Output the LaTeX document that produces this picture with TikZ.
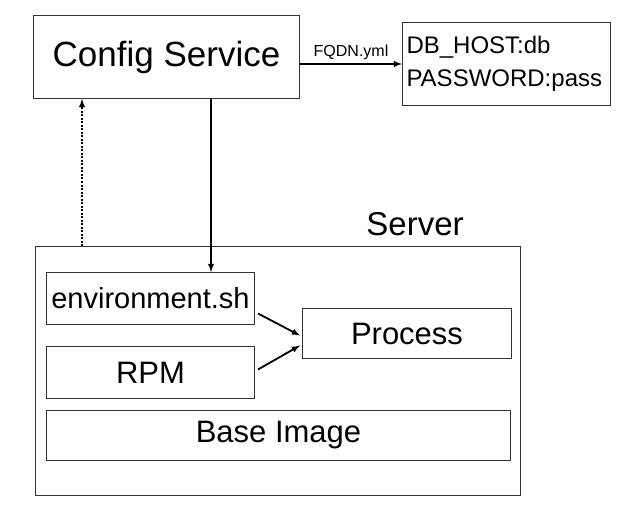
\documentclass[tikz,border=0pt]{standalone}
\usepackage{fontspec}
\setmainfont{Liberation Sans}
\usetikzlibrary{positioning}

\begin{document}
\begin{tikzpicture}[x=1pt,y=-1pt,>=latex,
    box/.style={draw=black!80,line width=1pt,rectangle,inner sep=0pt,anchor=north west},
    boxtext/.style={font=\fontsize{31}{33}\selectfont},
    link/.style={->,line width=1.8pt}]

    \useasboundingbox (0,0) rectangle (632,508);

    \node[box, minimum width=266pt, minimum height=83pt, font=\fontsize{35}{37}\selectfont] (config) at (33,15) {Config Service};
    \node[box, minimum height=83pt, text width=200pt, inner xsep=4pt, align=left, font=\fontsize{24}{33}\selectfont] (db) at (402,22) {DB\_HOST:db\\PASSWORD:pass};

    \node[box, minimum width=485pt, minimum height=249pt] (server) at (35,246) {};
    \node[font=\fontsize{33}{35}\selectfont] (serverlabel) at (415,224) {Server};

    \node[box, boxtext, font=\fontsize{29}{31}\selectfont, minimum width=208pt, minimum height=52pt] (env) at (46,272) {environment.sh};
    \node[box, boxtext, minimum width=209pt, minimum height=50pt] (process) at (302,308) {Process};
    \node[box, boxtext, minimum width=208pt, minimum height=52pt] (rpm) at (46,346) {RPM};
    \node[box, boxtext, minimum width=464pt, minimum height=50pt] (base) at (46,410) {Base Image};

    \coordinate (drop) at (211,0);
    \coordinate (poll) at (82,0);

    % config push / pull
    \draw[link] (config.east |- db.west) -- node[above, font=\fontsize{16}{18}\selectfont] {FQDN.yml} (db.west);
    \draw[link] (config.south -| drop) -- (env.north -| drop);
    \draw[link, dash pattern=on 2pt off 1.5pt] (server.north -| poll) -- (config.south -| poll);

    \draw[link] ([shift={(3,15)}]env.east) -- ([shift={(-2,2)}]process.west);
    \draw[link] ([shift={(3,-3)}]rpm.east) -- ([shift={(-2,12)}]process.west);

\end{tikzpicture}
\end{document}
